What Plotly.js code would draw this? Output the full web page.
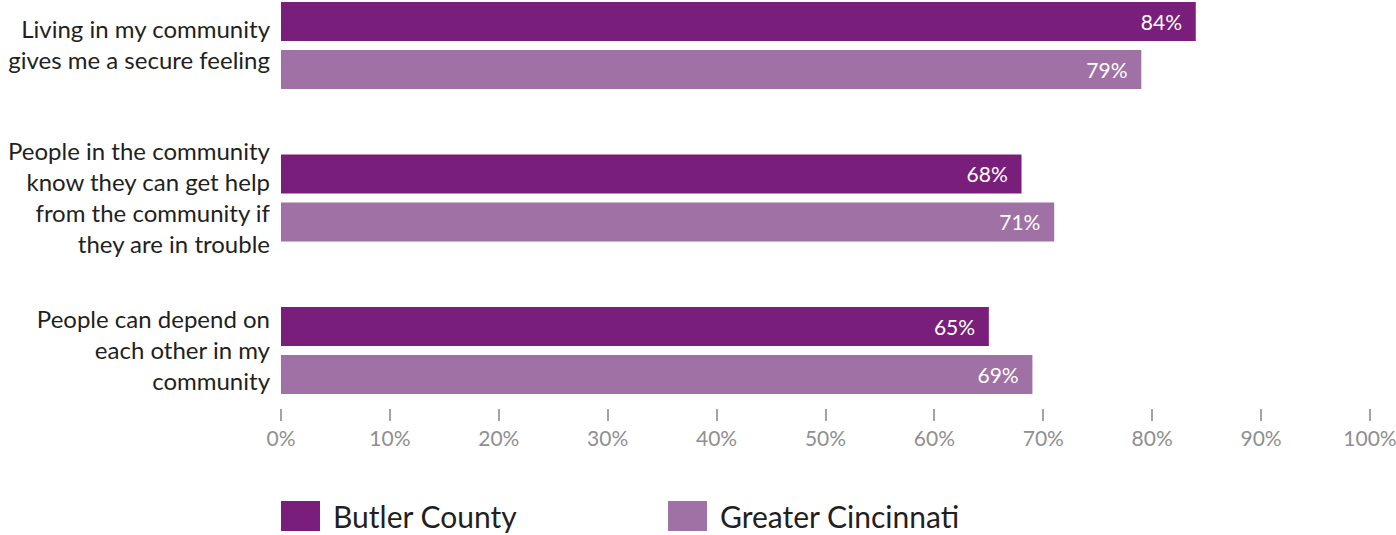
<!DOCTYPE html>
<html><head><meta charset="utf-8">
<script src="https://cdn.plot.ly/plotly-3.0.1.min.js"></script>
<style>html,body{margin:0;padding:0;background:#fff}</style>
</head><body><div id="chart" style="width:1396px;height:535px"></div>
<script>
const categories = [
  "Living in my community<br>gives me a secure feeling",
  "People in the community<br>know they can get help<br>from the community if<br>they are in trouble",
  "People can depend on<br>each other in my<br>community"
];
const seriesNames = ["Butler County", "Greater Cincinnati"];
const butlerValues = [84, 68, 65];
const cincyValues = [79, 71, 69];
const xTickVals = [0, 10, 20, 30, 40, 50, 60, 70, 80, 90, 100];
const xTickLabels = ["0%", "10%", "20%", "30%", "40%", "50%", "60%", "70%", "80%", "90%", "100%"];
const colors = ["#7a1e7b", "#a071a5"];
const FONT = "Lato, 'Open Sans', sans-serif";

const seriesValues = [butlerValues, cincyValues];
const traces = seriesValues.map((vals, i) => ({
  type: "bar",
  orientation: "h",
  name: seriesNames[i],
  y: categories,
  x: vals,
  text: vals.map(v => v + "%\u00a0\u00a0"),
  textposition: "inside",
  insidetextanchor: "end",
  textangle: 0,
  textfont: {family: FONT, size: 21, color: "#ffffff"},
  marker: {color: colors[i]},
  hoverinfo: "skip",
  showlegend: false
}));

const shapes = [];
const annotations = [];
const legendOffsets = [0, 387];
seriesNames.forEach((n, i) => {
  shapes.push({
    type: "rect", xref: "paper", yref: "paper",
    xsizemode: "pixel", ysizemode: "pixel",
    xanchor: 0, yanchor: 0,
    x0: legendOffsets[i], x1: legendOffsets[i] + 39,
    y0: -93, y1: -123,
    fillcolor: colors[i], line: {width: 0}
  });
  annotations.push({
    xref: "paper", yref: "paper", x: 0, y: 0,
    xshift: legendOffsets[i] + 50, yshift: -108,
    xanchor: "left", yanchor: "middle",
    text: n, showarrow: false,
    font: {family: FONT, size: 30, color: "#231f20"}
  });
});

const layout = {
  width: 1396, height: 535,
  margin: {l: 281, r: 26, t: 0, b: 127, pad: 0},
  paper_bgcolor: "#ffffff", plot_bgcolor: "#ffffff",
  barmode: "group",
  bargap: 0.3705,
  bargroupgap: 0.1875,
  font: {family: FONT},
  xaxis: {
    range: [0, 100],
    tickvals: xTickVals, ticktext: xTickLabels,
    ticks: "outside", ticklen: 12, tickwidth: 2, tickcolor: "#a3a3a3",
    showgrid: false, zeroline: false, showline: false,
    ticklabeloverflow: "allow",
    tickfont: {family: FONT, size: 21, color: "#8f8f8f"},
    fixedrange: true
  },
  yaxis: {
    type: "category",
    range: [2.377, -0.298],
    ticks: "", showgrid: false, zeroline: false, showline: false,
    tickfont: {family: FONT, size: 24, color: "#231f20"},
    ticklabelstandoff: 10,
    fixedrange: true
  },
  shapes: shapes,
  annotations: annotations,
  showlegend: false
};

Plotly.newPlot("chart", traces, layout, {displayModeBar: false, staticPlot: true});
</script>
</body></html>
